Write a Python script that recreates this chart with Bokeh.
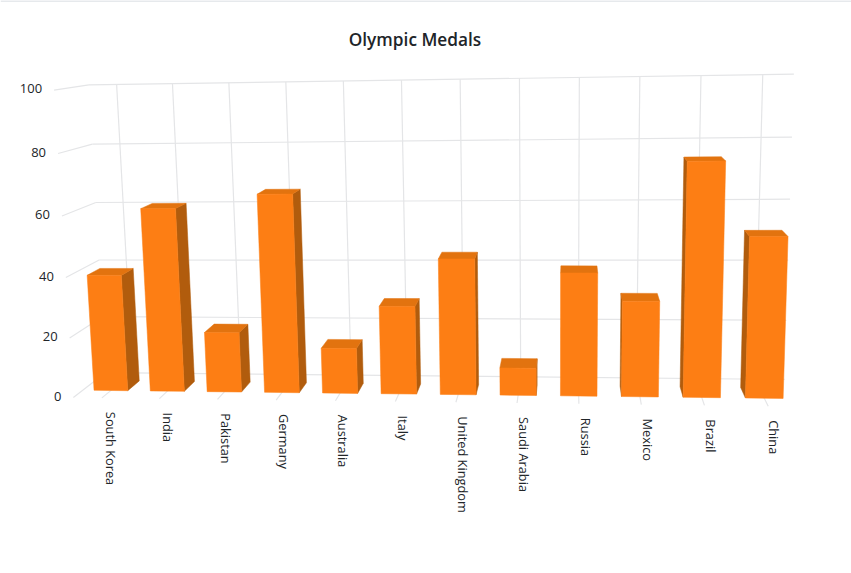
import numpy as np
from bokeh.core.properties import value
from bokeh.embed import file_html
from bokeh.models import Range1d
from bokeh.plotting import figure
from bokeh.resources import INLINE

categories = ["South Korea", "India", "Pakistan", "Germany", "Australia", "Italy",
              "United Kingdom", "Saudi Arabia", "Russia", "Mexico", "Brazil", "China"]
medals = [39, 61, 20, 65.5, 15, 29, 44.5, 9, 40, 31, 75, 51.5]
y_ticks = [0, 20, 40, 60, 80, 100]

W, H = 851, 573
FONT = "Open Sans"
INK = "#212529"
GRID = "#e4e5e7"
FRONT, TOP, SIDE = "#fd7e14", "#e2730f", "#b15c0d"
N = len(categories)

# Camera calibration: where the corners of the 3D plot box fall on the page.
# (category position, value, depth 0 = front .. 1 = back) -> (page x, page y)
box = [((0, 0, 0), (72, 397)), ((0, 100, 0), (54, 90)),
       ((0, 0, 1), (106, 372)), ((0, 100, 1), (88, 84)),
       ((12, 0, 1), (784, 380)), ((12, 100, 1), (793, 73)),
       ((12, 0, 0), (800, 405)), ((12, 100, 0), (811, 79))]


def fit_camera(pairs):
    rows, rhs = [], []
    for (u, v, w), (x, y) in pairs:
        a, b, c = u / 12, v / 100, w
        rows.append([a, b, c, 1, 0, 0, 0, 0, -x * a, -x * b, -x * c]); rhs.append(x)
        rows.append([0, 0, 0, 0, a, b, c, 1, -y * a, -y * b, -y * c]); rhs.append(y)
    return np.linalg.lstsq(np.array(rows, float), np.array(rhs, float), rcond=None)[0]


CAM = fit_camera(box)


def project(u, v, w):
    a, b, c = u / 12, v / 100, w
    d = CAM[8] * a + CAM[9] * b + CAM[10] * c + 1
    return ((CAM[0] * a + CAM[1] * b + CAM[2] * c + CAM[3]) / d,
            (CAM[4] * a + CAM[5] * b + CAM[6] * c + CAM[7]) / d)


def segment(p, a, b, color=GRID, width=1.2):
    xa, ya = project(*a)
    xb, yb = project(*b)
    p.line([xa, xb], [ya, yb], line_color=color, line_width=width)


p = figure(width=W, height=H, output_backend="svg", toolbar_location=None,
           x_range=Range1d(0, W), y_range=Range1d(H, 0), min_border=0,
           outline_line_color=None, background_fill_color="white")
p.axis.visible = False
p.grid.visible = False

# page rule along the very top
p.line([0, W], [0.5, 0.5], line_color="#dee2e6", line_width=1.5)

# walls
for t in y_ticks:
    segment(p, (0, t, 0), (0, t, 1))
    segment(p, (0, t, 1), (12, t, 1))
for i in range(N):
    segment(p, (i + .5, 0, 1), (i + .5, 100, 1))
    segment(p, (i + .5, 0, 0), (i + .5, 0, 1))


def area(pts):
    xs, ys = zip(*pts)
    return sum(xs[k] * ys[(k + 1) % 4] - xs[(k + 1) % 4] * ys[k] for k in range(4)) / 2


# bars
Z0, Z1, BW = 0.28, 0.67, 0.30
xs, ys, cols = [], [], []
for i, val in enumerate(medals):
    l, r = i + .5 - BW, i + .5 + BW
    faces = []
    left = [project(l, 0, Z0), project(l, val, Z0), project(l, val, Z1), project(l, 0, Z1)]
    right = [project(r, 0, Z1), project(r, val, Z1), project(r, val, Z0), project(r, 0, Z0)]
    # a side face shows only when it winds towards the viewer
    if area(left) < 0:
        faces.append((left, SIDE))
    if area(right) < 0:
        faces.append((right, SIDE))
    faces.append(([project(l, val, Z0), project(r, val, Z0), project(r, val, Z1), project(l, val, Z1)], TOP))
    faces.append(([project(l, 0, Z0), project(r, 0, Z0), project(r, val, Z0), project(l, val, Z0)], FRONT))
    for pts, c in faces:
        xs.append([q[0] for q in pts])
        ys.append([q[1] for q in pts])
        cols.append(c)
p.patches(xs, ys, fill_color=cols, line_color=cols, line_width=0.5)

# value labels
tx = [project(0, t, 0)[0] - 12 for t in y_ticks]
ty = [project(0, t, 0)[1] - 1.2 for t in y_ticks]
p.text(tx, ty, text=[str(t) for t in y_ticks], text_align="right", text_baseline="middle",
       text_font=value(FONT), text_font_size="13px", text_color=INK)

# category labels
cx = [project(i + .5, 0, 0)[0] + 9 - 3 * i / 11 for i in range(N)]
cy = [project(i + .5, 0, 0)[1] + 14 for i in range(N)]
p.text(cx, cy, text=categories, angle=-np.pi / 2, text_align="left", text_baseline="middle",
       text_font=value(FONT), text_font_size="12.8px", text_color=INK)

# title
p.text([414.5], [39], text=["Olympic Medals"], text_align="center", text_baseline="middle",
       text_font=value(FONT + " SemiBold"), text_font_size="17.25px", text_color=INK)

open("out.html", "w").write(file_html(p, INLINE))
